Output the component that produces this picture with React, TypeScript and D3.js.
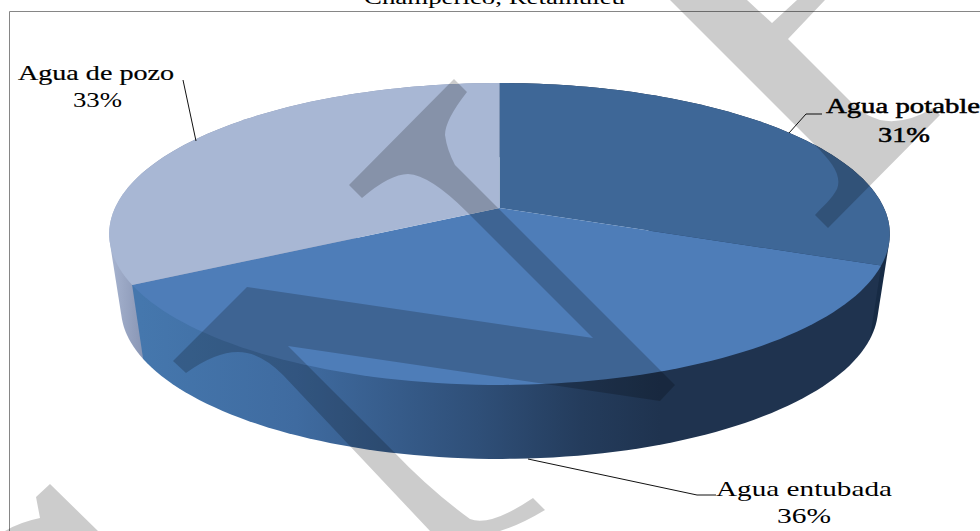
import React from "react";
import * as d3 from "d3";

const categories = ["Agua potable", "Agua entubada", "Agua de pozo"];
const percents = [31, 36, 33];
const capColors = ["#3e6797", "#4e7db8", "#a8b7d4"];
const wallFills = ["#172b45", "url(#wallEntubada)", "url(#wallPozo)"];
const title = "Champerico, Retalhuleu";

const W = 980, H = 531;
const CX = 499.5, APEX_Y = 208;
const A = 384.5, B = 146.5, K = 0.172;
const DEPTH = 74, LOWER_SCALE = 0.97;

// Perspective projection of the tilted disc
function rim(a: number): [number, number] {
  const u = Math.sin(a), v = -Math.cos(a);
  const s = 1 / (1 - K * v);
  return [CX + A * u * s, APEX_Y + B * v * s];
}
function lowerRim(a: number): [number, number] {
  const [x, y] = rim(a);
  return [CX + (x - CX) * LOWER_SCALE, y + DEPTH];
}
const line = d3.line<[number, number]>().curve(d3.curveLinear);
const samples = (a0: number, a1: number) => d3.range(0, 81).map((i) => a0 + ((a1 - a0) * i) / 80);

const pie = d3.pie<number>().sort(null).startAngle(0).endAngle(2 * Math.PI);
const arcs = pie(percents);

const watermark = [
  "M454,79 L467,92 Q445,120 445,135 Q447,150 455,165 L675,385 L660,401 L288,346 L393,451 Q430,490 470,519 Q490,527 533,498 L545,510 Q520,525 500,531 L430,531 L283,375 Q260,352 238,352 Q215,352 186,373 L173,361 L247,287 L593,338 L467,212 Q430,175 408,174 Q390,174 362,198 L349,185 Z",
  "M670,0 L815,145 C833,163 842,176 837,189 C832,199 823,206 815,215 L828,228 L940,115 L933,108 Q905,125 880,120 Q865,115 857,108 L788,39 L825,0 L797,0 L772,23 L747,0 Z",
  "M50,484 L36,497 L40,518 Q20,522 5,531 L98,531 Z",
];

const serif = "'Liberation Serif', serif";
const labels = [
  { t: "Agua de pozo", x: 18, y: 80, w: 156, heavy: 0.2 },
  { t: "33%", x: 73, y: 107, w: 49, heavy: 0 },
  { t: "Agua potable", x: 826, y: 113, w: 154, heavy: 0.5 },
  { t: "31%", x: 878, y: 142, w: 52, heavy: 0.5 },
  { t: "Agua entubada", x: 716, y: 496, w: 176, heavy: 0 },
  { t: "36%", x: 777, y: 523, w: 54, heavy: 0 },
];
const leaders: [number, number][][] = [
  [[183, 80], [196, 141]],
  [[789, 133], [806, 114], [822, 114]],
  [[528, 459], [697, 495], [716, 495]],
];

function wallPath(a0: number, a1: number) {
  const pts = [...samples(a0, a1).map(rim), ...samples(a0, a1).map(lowerRim)];
  const hull = d3.polygonHull(pts) ?? pts;
  return (line(hull) ?? "") + "Z";
}

export default function App() {
  return (
    <svg width={W} height={H} viewBox={`0 0 ${W} ${H}`} style={{ position: "absolute", left: 0, top: 0, background: "#fff" }}>
      <defs>
        <linearGradient id="wallEntubada" gradientUnits="userSpaceOnUse" x1="140" x2="660" y1="0" y2="0">
          <stop offset="0" stopColor="#4577ad" />
          <stop offset="0.3" stopColor="#3f6ba0" />
          <stop offset="0.65" stopColor="#2f4f78" />
          <stop offset="0.85" stopColor="#243c5c" />
          <stop offset="1" stopColor="#1f334f" />
        </linearGradient>
        <linearGradient id="wallPozo" gradientUnits="userSpaceOnUse" x1="112" x2="145" y1="0" y2="0">
          <stop offset="0" stopColor="#a5b2ce" />
          <stop offset="1" stopColor="#8794b3" />
        </linearGradient>
      </defs>
      <text x={364} y={4} fontFamily={serif} fontSize={18} textLength={261} lengthAdjust="spacingAndGlyphs" fill="#000">{title}</text>
      {[2, 0, 1].map((i) => (
        <path key={categories[i] + "wall"} d={wallPath(arcs[i].startAngle, arcs[i].endAngle)} fill={wallFills[i]} />
      ))}
      {arcs.map((d, i) => (
        <path key={categories[i]}
          d={(line([[CX, APEX_Y], ...samples(d.startAngle, d.endAngle).map(rim)]) ?? "") + "Z"}
          fill={capColors[i]} />
      ))}
      {leaders.map((l, i) => (
        <path key={i} d={line(l) ?? ""} fill="none" stroke="#111" strokeWidth={1} />
      ))}
      {labels.map((l) => (
        <text key={l.t} x={l.x} y={l.y} fontFamily={serif} fontSize={21} textLength={l.w} lengthAdjust="spacingAndGlyphs" fill="#000" stroke="#000" strokeWidth={l.heavy}>{l.t}</text>
      ))}
      <path d="M980,11.5 H9.5 V531" fill="none" stroke="#868686" strokeWidth={1} />
      {watermark.map((d, i) => (
        <path key={i} d={d} fill="#000" fillOpacity={0.2} />
      ))}
    </svg>
  );
}
